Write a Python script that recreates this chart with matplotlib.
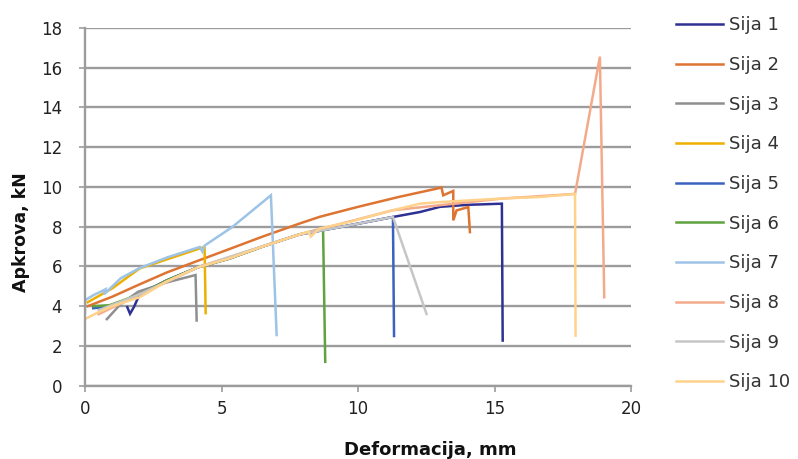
import matplotlib
matplotlib.use("Agg")
import matplotlib.pyplot as plt

plt.rcParams['font.family'] = ['DejaVu Sans']

# Load-deformation records for each specimen (mm, kN)
sija1_x = [1.55, 1.65, 1.8, 2.0, 3.0, 4.16, 5.27, 6.5, 7.85, 9.69, 11.28, 12.27, 13.0, 14.0, 15.27, 15.3]
sija1_y = [3.95, 3.62, 3.98, 4.6, 5.3, 5.97, 6.39, 7.0, 7.61, 8.07, 8.49, 8.74, 9.0, 9.1, 9.16, 2.27]

sija2_x = [0.1, 1.0, 2.0, 3.0, 4.2, 5.14, 6.5, 7.88, 8.6, 10.0, 11.5, 13.06, 13.12, 13.49, 13.49, 13.61, 14.04, 14.1]
sija2_y = [4.0, 4.48, 5.1, 5.7, 6.32, 6.8, 7.5, 8.17, 8.5, 9.0, 9.5, 9.97, 9.58, 9.8, 8.32, 8.82, 8.99, 7.73]

sija3_x = [0.8, 0.9, 1.3, 1.95, 3.0, 4.05, 4.09]
sija3_y = [3.35, 3.5, 4.1, 4.73, 5.2, 5.57, 3.28]

sija4_x = [0.1, 1.0, 2.0, 3.2, 4.3, 4.38, 4.42]
sija4_y = [4.2, 4.9, 5.9, 6.45, 6.95, 6.95, 3.65]

sija5_x = [0.3, 1.0, 2.0, 3.0, 4.16, 5.27, 6.5, 7.85, 9.69, 11.28, 11.32]
sija5_y = [3.9, 4.0, 4.6, 5.3, 5.97, 6.39, 7.0, 7.61, 8.07, 8.49, 2.5]

sija6_x = [0.3, 0.9, 2.0, 3.0, 4.16, 5.27, 6.5, 7.85, 8.72, 8.8]
sija6_y = [4.0, 4.05, 4.6, 5.3, 5.97, 6.39, 7.0, 7.61, 7.9, 1.2]

sija7_x = [0.0, 0.0, 0.3, 0.75, 0.7, 1.3, 2.0, 3.0, 4.2, 4.3, 4.38, 5.39, 6.81, 7.02]
sija7_y = [3.7, 4.3, 4.55, 4.85, 4.6, 5.4, 5.92, 6.45, 6.98, 6.75, 7.05, 7.98, 9.58, 2.55]

sija8_x = [0.5, 2.0, 4.16, 7.85, 11.28, 15.3, 17.95, 18.86, 19.02]
sija8_y = [3.6, 4.6, 5.97, 7.61, 8.83, 9.42, 9.65, 16.56, 4.45]

sija9_x = [0.5, 2.0, 4.16, 7.85, 9.69, 11.28, 12.51]
sija9_y = [3.8, 4.6, 5.97, 7.61, 8.07, 8.49, 3.61]

sija10_x = [0.0, 0.5, 1.0, 2.0, 3.0, 4.16, 5.27, 6.5, 7.85, 8.2, 8.27, 8.58, 9.69, 11.28, 12.27, 13.0, 14.0, 15.3, 16.7, 17.95, 17.97]
sija10_y = [3.35, 3.7, 4.0, 4.45, 5.25, 5.97, 6.39, 7.0, 7.61, 7.75, 7.5, 7.9, 8.24, 8.83, 9.16, 9.24, 9.32, 9.42, 9.5, 9.65, 2.52]

series = [
    ("Sija 1", sija1_x, sija1_y, "#2E3192"),
    ("Sija 2", sija2_x, sija2_y, "#DE7432"),
    ("Sija 3", sija3_x, sija3_y, "#8F8F8F"),
    ("Sija 4", sija4_x, sija4_y, "#EDB000"),
    ("Sija 5", sija5_x, sija5_y, "#3A62BE"),
    ("Sija 6", sija6_x, sija6_y, "#5FA23E"),
    ("Sija 7", sija7_x, sija7_y, "#9DC3E6"),
    ("Sija 8", sija8_x, sija8_y, "#F4AA8A"),
    ("Sija 9", sija9_x, sija9_y, "#C6C6C6"),
    ("Sija 10", sija10_x, sija10_y, "#FFD28C"),
]

x_ticks = [0, 5, 10, 15, 20]
y_ticks = [0, 2, 4, 6, 8, 10, 12, 14, 16, 18]

fig = plt.figure(figsize=(7.98, 4.59), dpi=100)
ax = fig.add_axes([85 / 798, 1 - 385.7 / 459, (631 - 85) / 798, (385.7 - 28) / 459])

for label, xs, ys, color in series:
    ax.plot(xs, ys, color=color, lw=1.8, label=label, solid_joinstyle="miter")

grid_color = "#9C9C9C"
ax.set_xlim(0, 20)
ax.set_ylim(0, 18)
ax.set_xticks(x_ticks)
ax.set_yticks(y_ticks)
ax.yaxis.grid(True, color=grid_color, lw=1.7)
ax.set_axisbelow(True)
for side in ("top", "right"):
    ax.spines[side].set_visible(False)
for side in ("left", "bottom"):
    ax.spines[side].set_color(grid_color)
    ax.spines[side].set_linewidth(1.7)
ax.tick_params(axis="both", colors=grid_color, labelcolor="#222222",
               labelsize=12, length=4.5, width=1.2)
ax.tick_params(axis="x", pad=6)
ax.tick_params(axis="y", pad=12)

ax.set_xlabel("Deformacija, mm", fontsize=13, fontweight="bold", color="#111111")
ax.set_ylabel("Apkrova, kN", fontsize=12.5, fontweight="bold", color="#111111")
ax.xaxis.set_label_coords(0.632, -0.155)
ax.yaxis.set_label_coords(-0.10, 0.43)

fig.legend(loc="upper left", bbox_to_anchor=(660 / 798, 1 - 0 / 459),
           frameon=False, fontsize=13, handlelength=2.6, handletextpad=0.3,
           labelspacing=1.2, labelcolor="#333333")

fig.savefig("out.png", dpi=100)
